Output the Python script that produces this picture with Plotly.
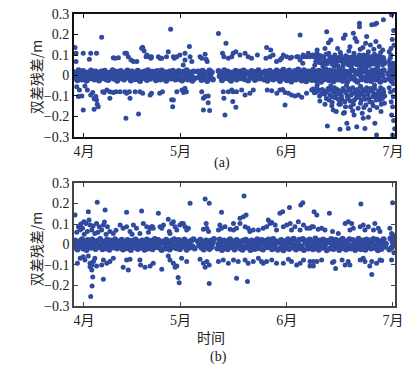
import plotly.graph_objects as go

# ---------------- data ----------------
# x: days since 29 March (observation epochs), y: double-difference residual (m)
month_labels = ["4月", "5月", "6月", "7月"]
month_days = [2.9, 31.2, 62.3, 93.4]
y_ticks = [-0.3, -0.2, -0.1, 0, 0.1, 0.2, 0.3]
y_tick_text = ["−0.3", "−0.2", "−0.1", "0", "0.1", "0.2", "0.3"]

EPOCHS_PER_DAY = 3  # residual epochs of the dense band (8-hour sampling)

# dense band residuals near zero, in millimetres (None = data gap)
band_a_mm = [
    16, -11, 4, -23, 26, -3, 11, -19, 22, -7, 0, -26, 15, 8, -15, 24, -8, 3, -20, 19, -1, 12, -24, 5, 20, -12, -4, 23, -18, 9,
    -22, 14, 1, -9, 26, -16, 7, 18, -26, -5, 11, 22, -14, 4, -20, 16, -1, 24, -11, 8, -24, 19, -7, 12, -18, 3, 23, -15, -27, 15,
    5, -12, 20, -3, -22, 26, 9, -16, 1, 18, -8, 14, -23, 22, -4, 7, -19, 24, -12, 0, 16, -26, 11, -7, 19, -15, 4, 23, -9, -20,
    12, -1, 22, -18, 8, -24, 18, 3, -11, 26, -20, 5, 15, -5, -26, 20, -14, None, None, 19, -8, 9, -22, 23, 1, -15, 14, -27, 7, 24,
    -9, 16, -19, None, None, None, None, 22, -4, 11, -23, 4, 26, -12, -1, 19, -16, 8, -26, 15, 3, -8, 23, -20, 12, -5, 20, -14, 0, 24,
    -18, 7, 16, -24, 11, -3, 22, -11, 1, -22, 18, -7, 26, -15, 5, 14, None, -19, 20, -1, -26, 9, 23, -12, 4, -20, 15, -8, 24, -16,
    8, -27, 19, -5, 28, -15, 3, -23, 15, 24, -9, -29, 12, -1, 22, -19, 5, 29, -12, 16, -24, 0, 26, -7, -28, 11, 20, -16, 4, -22,
    27, -11, 13, -26, 7, 23, -4, -30, 18, 1, -18, 29, -8, 9, -23, 24, -13, 4, -28, 19, -3, 15, -20, 30, -11, 5, -26, 22, -5, 12,
    -29, 18, 3, -15, 27, -8, 23, -22, 8, -31, 13, 28, -3, -18, 20, -12, 31, -24, 1, 16, -9, -27, 24, -4, 11, -19, 29, -15, 7, -30,
    19, -1, 25, -22, None, None, 9, -16, 29, -27, 4, 22, -11,
]
band_b_mm = [
    -14, 20, 3, -24, 9, 16, -7, 26, -19, 0, 12, -27, 22, -9, 5, -16, 24, -3, 15, -22, 8, 18, -12, 27, -5, -23, 14, 1, -18, 23,
    4, -26, 19, -8, 11, -15, 26, -1, -20, 16, 7, -11, 23, -24, 0, 14, -18, 22, -5, 9, -27, 18, 3, -14, 24, -8, -22, 15, 5, -16,
    20, -4, -26, 12, 24, -19, 1, -9, 18, -23, 8, 27, -12, -3, 22, -16, 11, -27, 15, 4, -20, 23, -7, 14, -24, 0, 19, -14, 26, -5,
    -18, 9, 22, -23, 3, 16, -11, 24, -1, -26, 14, 7, -15, 20, -8, 26, -19, None, None, 15, -4, 23, -16, 5, -24, 12, 19, -9, 0, -22,
    18, -12, 8, 27, None, None, -20, 3, 24, -7, -27, 14, 20, -16, 4, -23, 11, 26, -3, -14, 16, -24, 7, 22, -9, 0, -19, 15, -26, 19,
    -8, 23, -15, 1, 12, -27, 20, -4, 16, -22, 9, 26, -11, -18, 5, 22, -24, 14, -1, 18, -14, 24, -7, 8, -23, 27, -16, 3, 15, -26,
    11, -19, 22, -3, -28, 16, 4, -12, 26, -22, 8, 19, -15, 28, -5, -24, 14, 1, 23, -18, -8, 27, -27, 12, 18, -1, -20, 24, -11, 5,
    -23, 15, 29, -7, 9, -26, 20, 0, -16, 24, -12, 4, -28, 18, 12, -19, 27, -4, -22, 8, 23, -14, 1, -27, 19, -8, 28, -18, 7, -24,
    16, -3, 26, -20, -9, 22, 5, -27, 14, -15, 28, -7, -23, 11, 19, -1, -26, 24, -12, 3, 20, -19, 8, 27, -16, -5, 23, -28, 15, 0,
    -22, 18, 26, -11, 4, None, None, -24, 29, -16, 11, 23, -5,
]

# scattered residuals (day, metres)
a_upper = [
    (0.3, 0.137), (0.6, 0.108), (0.6, 0.068), (2.7, 0.108), (4.5, 0.079), (4.9, 0.108), (6.6, 0.108), (8.1, 0.186),
    (11.5, 0.087), (12.0, 0.084), (13.0, 0.087), (14.9, 0.108), (15.4, 0.108), (15.9, 0.092), (16.7, 0.076), (17.4, 0.068),
    (18.4, 0.068), (20.1, 0.138), (19.8, 0.133), (20.5, 0.121), (21.1, 0.092), (21.3, 0.1), (22.1, 0.092), (22.5, 0.084),
    (22.7, 0.092), (24.7, 0.092), (25.2, 0.084), (25.7, 0.084), (27.1, 0.092), (27.6, 0.116), (28.3, 0.225), (29.1, 0.092),
    (29.4, 0.084), (30.1, 0.092), (31.0, 0.1), (32.0, 0.051), (32.5, 0.108), (32.5, 0.076), (33.8, 0.141), (34.0, 0.092),
    (34.5, 0.068), (36.9, 0.092), (37.4, 0.084), (38.4, 0.104), (38.7, 0.079), (39.0, 0.068), (42.3, 0.205), (43.5, 0.108),
    (43.9, 0.092), (44.5, 0.157), (45.2, 0.084), (46.2, 0.092), (46.6, 0.108), (47.4, 0.116), (48.6, 0.1), (50.1, 0.108),
    (51.0, 0.092), (52.0, 0.084), (53.7, 0.1), (56.2, 0.084), (56.4, 0.136), (57.4, 0.092), (57.6, 0.124), (58.3, 0.1),
    (59.3, 0.068), (60.3, 0.076), (60.8, 0.084), (61.3, 0.1), (62.3, 0.092), (63.3, 0.084), (63.7, 0.089), (65.2, 0.092),
    (65.7, 0.092), (66.2, 0.198), (66.2, 0.076), (67.0, 0.06), (67.1, 0.1), (67.2, 0.092), (68.1, 0.092), (68.6, 0.108),
    (69.1, 0.092), (69.9, 0.1), (71.1, 0.108),
    (83.6, 0.255), (83.6, 0.238), (87.2, 0.247), (88.1, 0.25), (88.6, 0.255), (90.6, 0.272), (93.0, 0.296), (79.4, 0.198),
    (78.9, 0.182), (81.8, 0.206), (82.3, 0.182), (82.8, 0.166), (74.5, 0.16), (73.5, 0.132), (85.4, 0.157), (86.8, 0.149),
    (88.4, 0.166), (89.4, 0.141), (90.4, 0.124), (92.8, 0.132), (92.3, 0.116), (92.8, 0.1), (74.0, 0.214), (75.2, 0.173),
    (85.7, 0.19),
    (70.2, 0.092), (70.8, 0.068), (71.5, 0.1), (72.0, 0.076), (72.6, 0.06), (73.1, 0.088), (73.8, 0.104), (74.3, 0.072),
    (74.9, 0.092), (75.5, 0.056), (75.9, 0.084), (76.4, 0.1), (76.9, 0.068), (77.5, 0.088), (78.0, 0.112), (78.4, 0.076),
    (79.0, 0.06), (79.6, 0.096), (80.1, 0.08), (80.5, 0.12), (81.0, 0.064), (81.5, 0.092), (82.0, 0.108), (82.4, 0.072),
    (82.9, 0.052), (83.4, 0.088), (83.8, 0.128), (84.3, 0.076), (84.8, 0.1), (85.2, 0.06), (85.7, 0.084), (86.2, 0.116),
    (86.6, 0.068), (87.0, 0.092), (87.5, 0.056), (88.0, 0.104), (88.5, 0.08), (88.9, 0.064), (89.3, 0.096), (89.8, 0.112),
    (90.2, 0.072), (90.6, 0.088), (91.0, 0.06), (76.2, 0.044), (78.8, 0.048), (81.2, 0.04), (84.0, 0.044), (86.4, 0.048),
    (89.0, 0.044), (71.2, 0.124), (77.2, 0.132), (80.8, 0.14), (84.6, 0.136), (87.8, 0.128),
    (92.2, 0.068), (92.6, 0.084), (93.4, 0.06), (93.7, 0.148), (93.2, 0.176), (92.5, 0.05), (93.6, 0.22), (93.8, 0.04),
    (70.5, 0.05), (71.0, 0.084), (71.8, 0.064), (72.3, 0.096), (72.9, 0.044), (73.4, 0.076), (74.0, 0.056), (74.6, 0.108),
    (75.1, 0.068), (75.7, 0.088), (76.1, 0.06), (76.7, 0.08), (77.3, 0.048), (77.8, 0.072), (78.2, 0.096), (78.7, 0.064),
    (79.3, 0.084), (79.8, 0.07), (80.3, 0.052), (80.7, 0.088), (81.3, 0.076), (81.7, 0.056), (82.2, 0.092), (82.6, 0.064),
    (83.1, 0.076), (83.6, 0.1), (84.1, 0.06), (84.5, 0.088), (85.0, 0.072), (85.4, 0.048), (85.9, 0.1), (86.3, 0.076),
    (86.8, 0.06), (87.2, 0.084), (87.7, 0.068), (88.2, 0.092), (88.6, 0.052), (89.1, 0.08), (89.5, 0.064), (90.0, 0.088),
    (90.4, 0.052), (90.8, 0.076), (73.0, 0.06), (76.0, 0.072), (79.9, 0.092), (83.0, 0.056), (86.0, 0.064), (89.7, 0.076),
]
a_lower = [
    (0.8, -0.055), (1.3, -0.103), (1.6, -0.071), (2.3, -0.1), (2.7, -0.168), (3.2, -0.051), (3.9, -0.071), (4.9, -0.095),
    (5.5, -0.083), (5.9, -0.114), (5.9, -0.165), (6.4, -0.102), (6.6, -0.12), (6.8, -0.14), (7.1, -0.152), (8.4, -0.079),
    (8.8, -0.083), (9.6, -0.071), (10.5, -0.111), (10.5, -0.079), (11.5, -0.083), (12.3, -0.079), (13.5, -0.079),
    (14.9, -0.079), (15.2, -0.209), (15.4, -0.087), (16.2, -0.079), (16.4, -0.111), (17.9, -0.079), (18.9, -0.188),
    (19.3, -0.079), (20.1, -0.087), (22.3, -0.095), (22.7, -0.087),
    (25.1, -0.087), (25.9, -0.079), (28.6, -0.118), (28.9, -0.152), (29.1, -0.12), (30.1, -0.079), (31.6, -0.071),
    (32.1, -0.083), (32.5, -0.062), (32.9, -0.079), (37.4, -0.079), (37.9, -0.111), (37.9, -0.168), (38.4, -0.103),
    (39.3, -0.1), (39.3, -0.133), (39.7, -0.171), (43.7, -0.079), (43.9, -0.111), (44.2, -0.193), (45.2, -0.079),
    (46.6, -0.079),
    (46.2, -0.071), (46.5, -0.127), (47.4, -0.155), (47.6, -0.079), (49.1, -0.071), (50.1, -0.095), (51.5, -0.087),
    (52.5, -0.071), (56.6, -0.071), (57.9, -0.074), (59.4, -0.087), (60.3, -0.071), (61.1, -0.068), (61.8, -0.083),
    (61.8, -0.144), (62.8, -0.087), (63.7, -0.095), (64.7, -0.1), (65.7, -0.095), (66.7, -0.106), (68.1, -0.087),
    (69.6, -0.071),
    (74.2, -0.246), (77.9, -0.262), (79.9, -0.233), (80.3, -0.258), (82.8, -0.25), (82.0, -0.193), (84.7, -0.209),
    (85.2, -0.258), (86.2, -0.204), (88.1, -0.233), (88.6, -0.29), (93.3, -0.29), (75.9, -0.168), (78.9, -0.184),
    (93.3, -0.152), (93.0, -0.193),
    (70.0, -0.066), (70.9, -0.08), (71.6, -0.072), (72.4, -0.09), (73.2, -0.076), (73.9, -0.112), (74.4, -0.064),
    (75.0, -0.096), (75.6, -0.13), (76.1, -0.08), (76.6, -0.108), (77.1, -0.068), (77.6, -0.14), (78.1, -0.092),
    (78.5, -0.116), (79.1, -0.076), (79.5, -0.152), (80.0, -0.1), (80.4, -0.064), (80.9, -0.124), (81.4, -0.088),
    (81.8, -0.14), (82.3, -0.072), (82.7, -0.108), (83.2, -0.16), (83.6, -0.084), (84.1, -0.12), (84.5, -0.068),
    (85.0, -0.1), (85.5, -0.144), (85.9, -0.08), (86.4, -0.112), (86.9, -0.064), (87.3, -0.132), (87.8, -0.088),
    (88.3, -0.104), (88.7, -0.156), (89.2, -0.076), (89.6, -0.12), (90.1, -0.092), (90.5, -0.068), (90.9, -0.136),
    (76.8, -0.176), (79.2, -0.18), (81.6, -0.172), (84.4, -0.184), (86.6, -0.168), (89.9, -0.176), (71.2, -0.048),
    (75.2, -0.05), (79.8, -0.048), (83.9, -0.052), (88.0, -0.048), (73.5, -0.14), (77.9, -0.128),
    (92.3, -0.06), (92.7, -0.08), (93.5, -0.104), (92.9, -0.128), (93.8, -0.072), (93.6, -0.22), (93.9, -0.26),
    (93.5, -0.04),
    (70.4, -0.084), (71.1, -0.06), (71.9, -0.1), (72.7, -0.068), (73.4, -0.092), (74.1, -0.08), (74.7, -0.12),
    (75.3, -0.072), (75.8, -0.104), (76.3, -0.06), (76.9, -0.092), (77.4, -0.116), (77.8, -0.076), (78.3, -0.1),
    (78.8, -0.064), (79.3, -0.128), (79.7, -0.084), (80.2, -0.112), (80.7, -0.072), (81.1, -0.096), (81.6, -0.06),
    (82.1, -0.12), (82.5, -0.088), (83.0, -0.068), (83.4, -0.104), (83.9, -0.136), (84.3, -0.092), (84.8, -0.076),
    (85.2, -0.116), (85.7, -0.06), (86.1, -0.092), (86.6, -0.128), (87.1, -0.076), (87.5, -0.104), (88.0, -0.064),
    (88.5, -0.12), (88.9, -0.088), (89.4, -0.1), (89.8, -0.06), (90.3, -0.112), (90.7, -0.08), (91.0, -0.1),
    (72.0, -0.124), (75.5, -0.148), (78.0, -0.14), (81.0, -0.152), (84.9, -0.156), (87.6, -0.148), (90.0, -0.14),
]
b_upper = [
    (0.3, 0.144), (6.8, 0.206), (4.2, 0.16), (9.1, 0.168), (15.4, 0.157), (19.8, 0.163),
    (1.3, 0.087), (1.8, 0.071), (2.5, 0.079), (2.9, 0.111), (3.5, 0.103), (3.9, 0.063), (4.7, 0.095), (5.2, 0.071),
    (6.1, 0.054), (6.6, 0.103), (7.4, 0.087), (8.1, 0.071), (8.6, 0.095), (9.8, 0.087), (10.5, 0.063), (11.5, 0.054),
    (13.5, 0.095), (14.4, 0.079), (15.4, 0.087), (16.4, 0.063), (17.4, 0.095), (18.3, 0.079), (19.3, 0.054),
    (20.3, 0.103), (21.3, 0.087), (22.3, 0.079), (23.0, 0.087),
    (0.8, 0.06), (2.0, 0.1), (3.0, 0.05), (4.4, 0.12), (5.6, 0.09), (7.0, 0.06), (8.9, 0.11), (9.4, 0.05), (12.3, 0.07),
    (17.0, 0.05), (21.8, 0.06),
    (34.0, 0.201), (38.4, 0.222), (39.6, 0.201), (43.2, 0.157), (24.7, 0.152),
    (22.7, 0.087), (23.2, 0.079), (25.2, 0.087), (25.7, 0.079), (26.2, 0.095), (27.6, 0.123), (28.1, 0.054),
    (28.6, 0.103), (29.1, 0.111), (29.6, 0.087), (30.1, 0.071), (31.0, 0.095), (31.5, 0.103), (32.0, 0.103),
    (32.5, 0.087), (33.0, 0.071), (33.5, 0.079), (27.9, 0.063),
    (37.9, 0.074), (38.7, 0.103), (38.9, 0.079), (39.4, 0.063), (42.7, 0.095), (42.3, 0.071), (43.2, 0.079),
    (44.2, 0.087), (45.7, 0.074), (46.7, 0.103),
    (49.8, 0.237), (67.0, 0.204), (66.4, 0.193), (63.1, 0.181), (60.3, 0.152), (61.1, 0.16), (56.9, 0.119),
    (57.9, 0.107), (48.6, 0.128), (49.6, 0.136), (50.4, 0.144),
    (46.7, 0.071), (47.6, 0.079), (48.6, 0.103), (50.1, 0.087), (51.0, 0.079), (51.5, 0.063), (52.5, 0.071),
    (54.0, 0.071), (55.4, 0.079), (56.4, 0.087), (57.4, 0.103), (58.9, 0.095), (59.3, 0.071), (61.3, 0.087),
    (62.3, 0.095), (63.3, 0.103), (63.7, 0.071), (64.7, 0.087), (65.7, 0.111), (66.2, 0.071), (67.2, 0.095),
    (68.2, 0.079), (69.6, 0.087),
    (84.0, 0.198), (93.3, 0.204), (70.3, 0.16), (71.1, 0.144), (74.8, 0.152),
    (69.1, 0.079), (70.1, 0.087), (71.5, 0.075), (72.5, 0.079), (73.5, 0.071), (75.7, 0.063), (77.4, 0.054),
    (79.4, 0.103), (80.3, 0.111), (81.3, 0.103), (81.8, 0.079), (80.8, 0.071), (83.8, 0.087), (84.7, 0.095),
    (85.2, 0.071), (86.2, 0.087), (88.1, 0.103), (89.1, 0.079), (89.6, 0.063), (87.7, 0.071), (92.5, 0.079),
    (93.0, 0.054), (93.4, 0.04), (93.2, 0.05), (93.8, 0.03),
]
b_lower = [
    (1.0, -0.092), (1.8, -0.067), (2.7, -0.06), (3.2, -0.075), (4.2, -0.056), (4.7, -0.092), (5.2, -0.1),
    (5.7, -0.083), (6.1, -0.067), (6.6, -0.105), (4.7, -0.108), (5.2, -0.124), (5.5, -0.158), (5.3, -0.203),
    (4.9, -0.254), (8.6, -0.17), (8.1, -0.1), (8.6, -0.075), (9.6, -0.092), (10.5, -0.083), (11.5, -0.067),
    (14.4, -0.111), (15.9, -0.124), (15.4, -0.075), (16.4, -0.072), (19.3, -0.075), (19.5, -0.1), (20.8, -0.111),
    (22.3, -0.105), (23.2, -0.092),
    (25.7, -0.121), (27.6, -0.056), (28.1, -0.075), (29.1, -0.092), (29.6, -0.111), (30.1, -0.105), (30.5, -0.161),
    (30.8, -0.186), (31.5, -0.067), (33.0, -0.083), (36.9, -0.072), (38.9, -0.083), (39.6, -0.1), (38.4, -0.111),
    (37.9, -0.092), (39.6, -0.19), (42.3, -0.083), (43.7, -0.075), (45.2, -0.092),
    (47.6, -0.165), (50.8, -0.181), (46.7, -0.075), (48.1, -0.083), (50.1, -0.075), (51.0, -0.092), (52.5, -0.083),
    (54.0, -0.067), (54.9, -0.083), (55.4, -0.092), (56.4, -0.083), (57.9, -0.075), (59.3, -0.092), (61.3, -0.092),
    (62.8, -0.072), (63.7, -0.083), (65.2, -0.1), (66.2, -0.092), (67.2, -0.075), (69.1, -0.105), (70.1, -0.083),
    (87.2, -0.146), (69.1, -0.083), (70.1, -0.105), (71.1, -0.083), (72.5, -0.075), (75.7, -0.088), (76.6, -0.117),
    (76.1, -0.083), (78.5, -0.075), (79.4, -0.1), (80.3, -0.083), (80.8, -0.1), (83.8, -0.075), (84.7, -0.067),
    (85.2, -0.083), (86.6, -0.105), (87.2, -0.083), (88.6, -0.092), (89.6, -0.075), (90.1, -0.078), (93.0, -0.075),
    (93.7, -0.04),
]

# ---------------- build ----------------
BLUE = "#2f4a9e"
SERIF = "Liberation Serif, Times New Roman, Noto Sans CJK SC, serif"
CJK = "Noto Sans CJK SC, sans-serif"


def band_xy(vals):
    xs, ys = [], []
    for i, v in enumerate(vals):
        if v is None:
            continue
        xs.append(i / EPOCHS_PER_DAY)
        ys.append(v / 1000.0)
    return xs, ys


def pts_xy(upper, lower):
    pts = upper + lower
    return [d for d, _ in pts], [v for _, v in pts]


fig = go.Figure()
for band, up, lo, xa, ya in [(band_a_mm, a_upper, a_lower, "x", "y"),
                             (band_b_mm, b_upper, b_lower, "x2", "y2")]:
    bx, by = band_xy(band)
    fig.add_trace(go.Scatter(x=bx, y=by, mode="markers", xaxis=xa, yaxis=ya,
                             marker=dict(size=6, color=BLUE, line=dict(width=0))))
    px, py = pts_xy(up, lo)
    fig.add_trace(go.Scatter(x=px, y=py, mode="markers", xaxis=xa, yaxis=ya,
                             marker=dict(size=5, color=BLUE, line=dict(width=0))))


def xaxis_cfg(anchor, lw, lc):
    return dict(anchor=anchor, domain=[0, 1], range=[0, 94], tickmode="array", tickvals=month_days,
                ticktext=month_labels, ticks="inside", ticklen=4, tickcolor=lc, showline=True, linewidth=lw,
                linecolor=lc, mirror="ticks", showgrid=False, zeroline=False, automargin=False,
                tickfont=dict(family=SERIF, size=14, color="#222"))


def yaxis_cfg(anchor, dom, lw, lc):
    return dict(anchor=anchor, domain=dom, range=[-0.3, 0.3], tickmode="array", tickvals=y_ticks,
                ticktext=y_tick_text, ticks="inside", ticklen=4, tickcolor=lc, showline=True, linewidth=lw,
                linecolor=lc, mirror="ticks", showgrid=False, zeroline=False, automargin=False,
                tickfont=dict(family=SERIF, size=14, color="#222"))


fig.update_layout(
    template="none",
    width=415, height=374,
    margin=dict(l=74, r=20, t=14, b=68),
    showlegend=False,
    plot_bgcolor="white", paper_bgcolor="white",
    xaxis=xaxis_cfg("y", 2, "#111"),
    yaxis=yaxis_cfg("x", [0.5788, 1], 2, "#111"),
    xaxis2=xaxis_cfg("y2", 1.5, "#444"),
    yaxis2=yaxis_cfg("x2", [0, 0.4212], 1.5, "#444"),
)

ann_font = dict(family=SERIF, size=14, color="#222")
title_font = dict(family=CJK, size=14, color="#222")
fig.add_annotation(text="双差残差/m", xref="paper", yref="paper", x=-0.118, y=0.784, textangle=-90,
                   showarrow=False, font=title_font, xanchor="center", yanchor="middle")
fig.add_annotation(text="双差残差/m", xref="paper", yref="paper", x=-0.118, y=0.195, textangle=-90,
                   showarrow=False, font=title_font, xanchor="center", yanchor="middle")
fig.add_annotation(text="(a)", xref="paper", yref="paper", x=0.461, y=0.49, showarrow=False,
                   font=ann_font, xanchor="center", yanchor="middle")
fig.add_annotation(text="时间", xref="paper", yref="paper", x=0.427, y=-0.106, showarrow=False,
                   font=dict(family=CJK, size=14, color="#222"), xanchor="center", yanchor="middle")
fig.add_annotation(text="(b)", xref="paper", yref="paper", x=0.449, y=-0.175, showarrow=False,
                   font=ann_font, xanchor="center", yanchor="middle")

fig.write_html("out.html", config={"displayModeBar": False},
               post_script="document.body.style.margin='0';")
